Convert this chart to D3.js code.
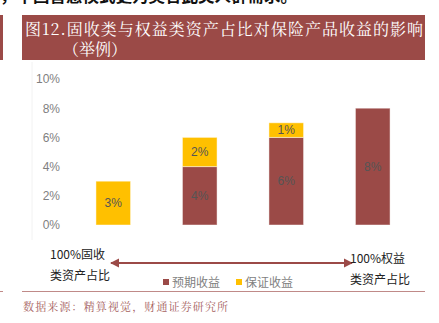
<!DOCTYPE html>
<html>
<head>
<meta charset="utf-8">
<script src="https://cdn.jsdelivr.net/npm/d3@7"></script>
<style>
  html, body { margin: 0; padding: 0; background: #fff; }
  svg { display: block; }
</style>
</head>
<body>
<svg id="chart" width="439" height="323"></svg>
<script>
// Portfolio mix (fixed income -> equity) and the resulting product yield, in %
const categories = ["A", "B", "C", "D"];
const expectedYield = [0, 4, 6, 8];   // 预期收益
const guaranteedYield = [3, 2, 1, 0]; // 保证收益
const yTicks = [0, 2, 4, 6, 8, 10];
const seriesNames = ["预期收益", "保证收益"];

const RED = "#9b4a47";
const GOLD = "#ffc000";
const CJK = "'Noto Sans CJK SC', 'Noto Sans', sans-serif";
const SERIF = "'Noto Serif CJK SC', 'Noto Sans CJK SC', serif";

const svg = d3.select("#chart");

// leading sentence from the body text above the figure (clipped at the top edge)
svg.append("text")
  .attr("x", 0).attr("y", 2)
  .attr("font-family", CJK).attr("font-size", 16.5).attr("font-weight", "bold")
  .attr("fill", "#111")
  .text("，中国普惠模式更为契合此类人群需求。");

// title banner
svg.append("rect").attr("x", 0).attr("y", 15).attr("width", 3).attr("height", 45).attr("fill", RED);
svg.append("rect").attr("x", 22).attr("y", 15).attr("width", 403).attr("height", 45).attr("fill", RED);
svg.append("text")
  .attr("x", 25).attr("y", 35)
  .attr("font-family", SERIF).attr("font-size", 16).attr("fill", "#fff")
  .attr("textLength", 398).attr("lengthAdjust", "spacing")
  .text("图12.固收类与权益类资产占比对保险产品收益的影响");
svg.append("text")
  .attr("x", 63).attr("y", 55)
  .attr("font-family", SERIF).attr("font-size", 16).attr("fill", "#fff")
  .text("（举例）");

// scales
const x = d3.scaleBand().domain(categories).range([70, 416]).paddingInner(0.6).paddingOuter(0.3);
const y = d3.scaleLinear().domain([0, 10]).range([225, 79]);

// faint frame line at the left of the plot
svg.append("line").attr("x1", 32).attr("x2", 32).attr("y1", 62).attr("y2", 240)
  .attr("stroke", "#f2f2f2").attr("stroke-width", 1);

// y axis labels
const yAxis = d3.axisLeft(y).tickValues(yTicks).tickFormat(d => d + "%").tickSize(0).tickPadding(0);
const yg = svg.append("g").attr("transform", "translate(60,0)").call(yAxis);
yg.select(".domain").remove();
yg.selectAll("text").attr("font-family", "Arial, 'Liberation Sans', sans-serif")
  .attr("font-size", 12).attr("fill", "#7f7f7f");

// stacked bars
const rows = categories.map((c, i) => ({ cat: c, expected: expectedYield[i], guaranteed: guaranteedYield[i] }));
const stack = d3.stack().keys(["expected", "guaranteed"])(rows);
const colors = { expected: RED, guaranteed: GOLD };

stack.forEach(layer => {
  const g = svg.append("g");
  layer.forEach(d => {
    const v = d[1] - d[0];
    if (v <= 0) return;
    g.append("rect")
      .attr("x", x(d.data.cat))
      .attr("y", y(d[1]))
      .attr("width", x.bandwidth())
      .attr("height", y(d[0]) - y(d[1]))
      .attr("fill", colors[layer.key])
      .attr("stroke", "rgba(255,255,255,0.45)").attr("stroke-width", 1);
    g.append("text")
      .attr("x", x(d.data.cat) + x.bandwidth() / 2)
      .attr("y", (y(d[0]) + y(d[1])) / 2)
      .attr("dy", "0.35em")
      .attr("text-anchor", "middle")
      .attr("font-family", "Arial, 'Liberation Sans', sans-serif").attr("font-size", 12)
      .attr("fill", "#555")
      .text(v + "%");
  });
});

// double-headed arrow: fixed income -> equity
const defs = svg.append("defs");
["start", "end"].forEach(k => {
  defs.append("marker")
    .attr("id", "arr-" + k)
    .attr("viewBox", "0 0 10 10").attr("refX", 9).attr("refY", 5)
    .attr("markerWidth", 4.2).attr("markerHeight", 4.2)
    .attr("orient", k === "start" ? "auto-start-reverse" : "auto")
    .append("path").attr("d", "M0,0 L10,5 L0,10 Z").attr("fill", RED);
});
svg.append("line")
  .attr("x1", 111).attr("x2", 352).attr("y1", 263).attr("y2", 263)
  .attr("stroke", RED).attr("stroke-width", 2.2)
  .attr("marker-start", "url(#arr-start)").attr("marker-end", "url(#arr-end)");

const endLabel = (x0, y0, lines) => {
  lines.forEach((t, i) => {
    svg.append("text").attr("x", x0).attr("y", y0 + i * 21)
      .attr("font-family", CJK).attr("font-size", 12).attr("fill", "#222")
      .text(t);
  });
};
endLabel(50, 259, ["100%固收", "类资产占比"]);
endLabel(350, 263, ["100%权益", "类资产占比"]);

// legend
const legend = svg.append("g");
const legendX = [163, 236];
seriesNames.forEach((name, i) => {
  legend.append("rect").attr("x", legendX[i]).attr("y", 279).attr("width", 6).attr("height", 6)
    .attr("fill", i === 0 ? RED : GOLD);
  legend.append("text").attr("x", legendX[i] + 9).attr("y", 287)
    .attr("font-family", CJK).attr("font-size", 12).attr("fill", "#7f7f7f")
    .text(name);
});

// footer rule and source
svg.append("line").attr("x1", 0).attr("x2", 3).attr("y1", 291.5).attr("y2", 291.5)
  .attr("stroke", "#c08a88").attr("stroke-width", 1);
svg.append("line").attr("x1", 22).attr("x2", 425).attr("y1", 291.5).attr("y2", 291.5)
  .attr("stroke", "#c08a88").attr("stroke-width", 1);
svg.append("text")
  .attr("x", 23).attr("y", 311)
  .attr("font-family", SERIF).attr("font-size", 11).attr("fill", "#a5605d")
  .attr("textLength", 205).attr("lengthAdjust", "spacing")
  .text("数据来源：精算视觉，财通证券研究所");
</script>
</body>
</html>
